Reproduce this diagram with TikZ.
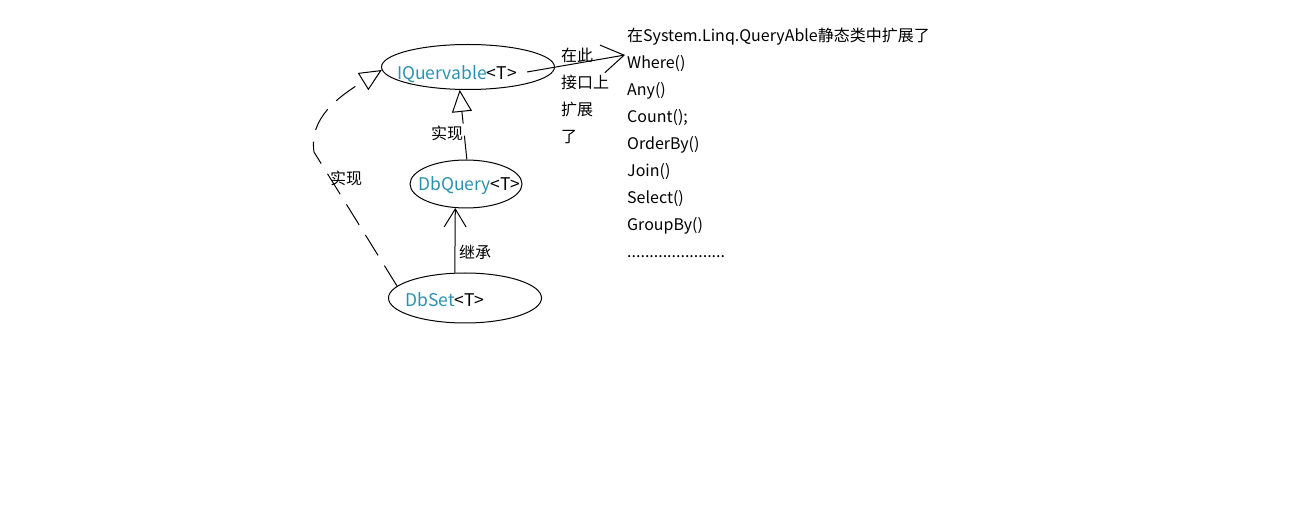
\documentclass[tikz,border=0pt]{standalone}
\usepackage{fontspec}
\setmainfont{Noto Sans CJK SC}
\usetikzlibrary{shapes.geometric, arrows.meta, positioning, calc}
\definecolor{typeteal}{HTML}{2B91AF}
\tikzset{
  % Class / interface ellipses
  classell/.style 2 args={
    ellipse, draw=black, line width=1pt, inner sep=0pt,
    minimum width=#1, minimum height=#2,
  },
  % Type names written into the ellipses
  typename/.style={anchor=west, inner sep=0pt, font=\fontsize{17.5}{20}\selectfont},
  % Hand-written notes
  note/.style={inner sep=0pt, font=\fontsize{16}{27}\selectfont, align=left},
  % Arrows
  inherit/.style={-{Straight Barb[length=18pt, width=22pt]}, line width=1pt},
  realize/.style={-{Triangle[open, length=22pt, width=20pt]}, line width=1pt,
    dash pattern=on 24pt off 12pt},
  extend/.style={-{Straight Barb[length=22pt, width=28pt]}, line width=1pt},
}

\begin{document}
\begin{tikzpicture}[x=1pt, y=-1pt]
  \useasboundingbox (0,0) rectangle (1314,526);

  % Ellipses
  \node[classell={173}{45}] (iq) at (468,67) {};
  \node[classell={112}{48}] (dbq) at (466,184) {};
  \node[classell={153}{50}] (dbset) at (465,298) {};

  % Type names
  \node[typename] (iqtxt) at (397,74) {\textcolor{typeteal}{IQuervable}<T>};
  \node[typename] (dbqtxt) at (418,186) {\textcolor{typeteal}{DbQuery}<T>};
  \node[typename] (dbsettxt) at (405,300) {\textcolor{typeteal}{DbSet}<T>};

  % Inheritance and implementation
  \draw[inherit] (dbset.112) -- (dbq.246);
  \node[note] (inh) at (475,252) {继承};
  \draw[realize] (dbq.88) -- (iq.250);
  \node[note] (real1) at (447,133) {实现};
  \coordinate (bend) at (314,152);
  \draw[realize] (dbset.170) -- (bend)
    .. controls (309,118) and (338,97) .. (iq.182);
  \node[note] (real2) at (346,178) {实现};

  % Extension methods
  \node[note, anchor=north west] (ext) at (627,28) {
    在System.Linq.QueryAble静态类中扩展了\\
    Where()\\
    Any()\\
    Count();\\
    OrderBy()\\
    Join()\\
    Select()\\
    GroupBy()\\
    ......................
  };
  \coordinate (tip) at (625,55);
  \draw[extend] ($(iqtxt.east)+(10,-2)$) -- (tip);
  \node[note, anchor=north west] (here) at (561,48) {在此\\接口上\\扩展\\了};

\end{tikzpicture}
\end{document}
